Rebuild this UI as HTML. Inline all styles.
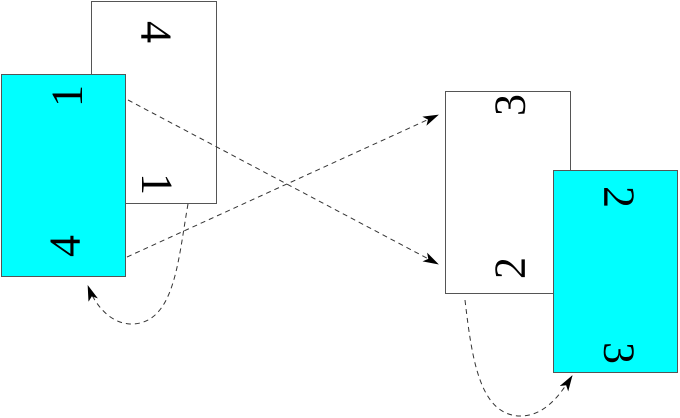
<!DOCTYPE html>
<html><head><style>
html,body{margin:0;padding:0;background:#fff;width:680px;height:418px;overflow:hidden}
</style></head><body>
<svg width="680" height="418" viewBox="0 0 680 418" xmlns="http://www.w3.org/2000/svg">
<defs>
<marker id="a" markerWidth="16" markerHeight="10" refX="15" refY="5" orient="auto" markerUnits="userSpaceOnUse">
<path d="M0,0 L16,5 L0,10 L4,5 Z" fill="#000"/>
</marker>
</defs>
<g stroke="#555" stroke-width="1">
<rect x="91.5" y="1.5" width="125" height="202" fill="#fff"/>
<rect x="1.5" y="74.5" width="124" height="202" fill="#00ffff"/>
<rect x="445.5" y="91.5" width="125" height="202" fill="#fff"/>
<rect x="553.5" y="170.5" width="124" height="202" fill="#00ffff"/>
</g>
<g font-family="Liberation Serif, serif" font-size="44" text-anchor="middle" dominant-baseline="central" fill="#000">
<text transform="translate(156,32) rotate(90)">4</text>
<text transform="translate(157,184) rotate(90)">1</text>
<text transform="translate(67,96) rotate(-90)">1</text>
<text transform="translate(65,246) rotate(-90)">4</text>
<text transform="translate(510,105) rotate(-90)">3</text>
<text transform="translate(510,268) rotate(-90)">2</text>
<text transform="translate(619,197) rotate(90)">2</text>
<text transform="translate(619,353) rotate(90)">3</text>
</g>
<g stroke="#333" stroke-width="1" fill="none" stroke-dasharray="5,4">
<path d="M128,100 L438,264" marker-end="url(#a)"/>
<path d="M127,257 L438,115" marker-end="url(#a)"/>
<path d="M188,204 C178,260 175,325 130,324 C110,323 95,305 88,286" marker-end="url(#a)"/>
<path d="M465,300 C472,360 480,415 520,416 C545,416 560,395 572,376" marker-end="url(#a)"/>
</g>
</svg>
</body></html>
